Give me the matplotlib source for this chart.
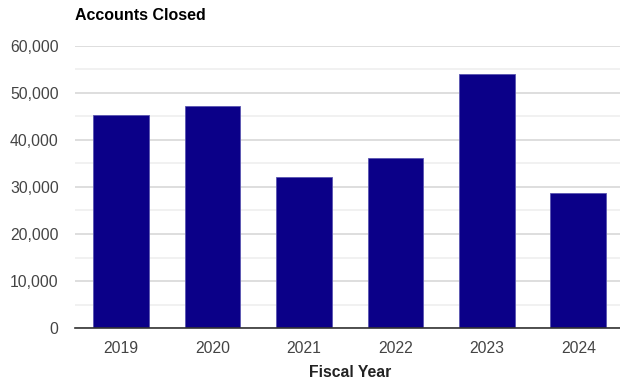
import matplotlib.pyplot as plt
from matplotlib.ticker import FuncFormatter, MultipleLocator

plt.rcParams['font.family'] = ['Liberation Sans', 'DejaVu Sans']

years = ['2019', '2020', '2021', '2022', '2023', '2024']
closed = [45300, 47200, 32100, 36200, 54000, 28700]

fig = plt.figure(figsize=(6.2, 3.83), dpi=100)
ax = fig.add_axes([0.1215, 0.1436, 0.885, 0.7363])

x = range(len(years))
ax.bar(x, closed, width=0.61, color='#0b0088', edgecolor='#5a55b0',
       linewidth=0.6, zorder=3)

ax.set_xlim(-0.5, len(years) - 0.5)
ax.set_ylim(0, 60000)
ax.set_xticks(list(x))
ax.set_xticklabels(years)

# major lines every 10k, lighter ones halfway
ax.yaxis.set_major_locator(MultipleLocator(10000))
ax.yaxis.set_minor_locator(MultipleLocator(5000))
ax.yaxis.set_major_formatter(FuncFormatter(lambda v, p: f'{int(v):,}'))
ax.grid(axis='y', which='major', color='#d4d4d4', linewidth=1.1, zorder=0)
ax.grid(axis='y', which='minor', color='#ededed', linewidth=1.1, zorder=0)

for side in ['top', 'right', 'left']:
    ax.spines[side].set_visible(False)
ax.spines['bottom'].set_color('#333333')
ax.spines['bottom'].set_linewidth(1.2)
ax.spines['bottom'].set_zorder(4)

ax.tick_params(axis='both', which='both', length=0, labelsize=11.3,
               labelcolor='#444444')
ax.tick_params(axis='y', pad=12)
ax.tick_params(axis='x', pad=9)

ax.set_xlabel('Fiscal Year', fontsize=11.3, fontweight='bold',
              color='#222222', labelpad=7)
fig.text(0.121, 0.96, 'Accounts Closed', fontsize=11.5, fontweight='bold',
         color='#000000', ha='left', va='center')

fig.savefig('out.png', dpi=100)
